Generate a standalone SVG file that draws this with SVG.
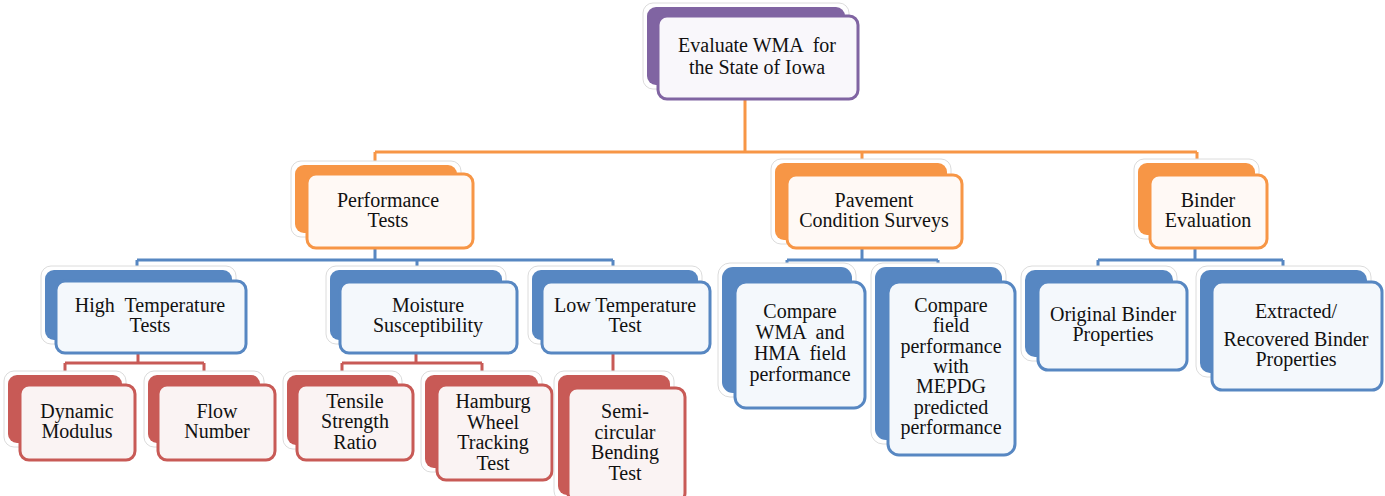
<svg xmlns="http://www.w3.org/2000/svg" width="1385" height="496" viewBox="0 0 1385 496">
<style>
.glow{fill:#ffffff;stroke:#dcdcdc;stroke-width:1}
.bk-p{fill:#8064A2}.fr-p{fill:#F9F7FB;stroke:#8064A2;stroke-width:3}
.bk-o{fill:#F79646}.fr-o{fill:#FFF9F5;stroke:#F79646;stroke-width:3}
.bk-b{fill:#5787C2}.fr-b{fill:#F4F8FC;stroke:#5787C2;stroke-width:3}
.bk-r{fill:#C85A56}.fr-r{fill:#FAF3F3;stroke:#C85A56;stroke-width:3}
.c-o{fill:none;stroke:#F79646;stroke-width:3}
.c-b{fill:none;stroke:#5787C2;stroke-width:3}
.c-r{fill:none;stroke:#C85A56;stroke-width:3}
.t{font-family:'Liberation Serif','Times New Roman',serif;font-size:20px;fill:#111;text-anchor:middle}
</style>
<rect width="1385" height="496" fill="#ffffff"/>
<g id="connectors">
<path class="c-o" d="M745,99 V152 M375,152 H1197 M375,152 V166 M862,152 V164 M1197,152 V164"/>
<path class="c-b" d="M375,248 V260 M137,260 H613 M137,260 V271 M417,260 V271 M613,260 V271"/>
<path class="c-b" d="M862,248 V260 M787,260 H938 M787,260 V268 M938,260 V268"/>
<path class="c-b" d="M1195,248 V260 M1098,260 H1283 M1098,260 V271 M1283,260 V271"/>
<path class="c-r" d="M138,353 V363 M65,363 H204 M65,363 V376 M204,363 V376"/>
<path class="c-r" d="M416,353 V363 M342,363 H482 M342,363 V376 M482,363 V376"/>
<path class="c-r" d="M613,353 V377"/>
</g>
<g id="n-root">
<rect class="glow" x="643" y="3" width="206" height="86" rx="10"/>
<rect class="bk-p" x="647" y="7" width="198" height="78" rx="9"/>
<rect class="fr-p" x="658" y="16" width="200" height="83" rx="9"/>
<text class="t" x="757" y="52" xml:space="preserve">Evaluate WMA  for</text>
<text class="t" x="757" y="74">the State of Iowa</text>
</g>
<g id="n-perf">
<rect class="glow" x="291" y="161" width="170" height="76" rx="10"/>
<rect class="bk-o" x="295" y="165" width="162" height="68" rx="9"/>
<rect class="fr-o" x="307" y="174" width="166" height="74" rx="9"/>
<text class="t" x="388" y="207">Performance</text>
<text class="t" x="388" y="227">Tests</text>
</g>
<g id="n-pave">
<rect class="glow" x="771" y="159" width="180" height="85" rx="10"/>
<rect class="bk-o" x="775" y="163" width="172" height="77" rx="9"/>
<rect class="fr-o" x="787" y="175" width="175" height="73" rx="9"/>
<text class="t" x="874" y="207">Pavement</text>
<text class="t" x="874" y="227">Condition Surveys</text>
</g>
<g id="n-binder">
<rect class="glow" x="1134" y="159" width="125" height="80" rx="10"/>
<rect class="bk-o" x="1138" y="163" width="117" height="72" rx="9"/>
<rect class="fr-o" x="1150" y="175" width="117" height="73" rx="9"/>
<text class="t" x="1208" y="207">Binder</text>
<text class="t" x="1208" y="227">Evaluation</text>
</g>
<g id="n-high">
<rect class="glow" x="41" y="266" width="195" height="78" rx="10"/>
<rect class="bk-b" x="45" y="270" width="187" height="70" rx="9"/>
<rect class="fr-b" x="56" y="281" width="190" height="72" rx="9"/>
<text class="t" x="150" y="312" xml:space="preserve">High  Temperature</text>
<text class="t" x="150" y="332">Tests</text>
</g>
<g id="n-moist">
<rect class="glow" x="326" y="266" width="180" height="78" rx="10"/>
<rect class="bk-b" x="330" y="270" width="172" height="70" rx="9"/>
<rect class="fr-b" x="340" y="282" width="177" height="71" rx="9"/>
<text class="t" x="428" y="312">Moisture</text>
<text class="t" x="428" y="332">Susceptibility</text>
</g>
<g id="n-low">
<rect class="glow" x="528" y="266" width="174" height="78" rx="10"/>
<rect class="bk-b" x="532" y="270" width="166" height="70" rx="9"/>
<rect class="fr-b" x="542" y="282" width="168" height="71" rx="9"/>
<text class="t" x="625" y="312">Low Temperature</text>
<text class="t" x="625" y="332">Test</text>
</g>
<g id="n-cmp1">
<rect class="glow" x="718" y="263" width="138" height="134" rx="12"/>
<rect class="bk-b" x="722" y="267" width="130" height="126" rx="11"/>
<rect class="fr-b" x="735" y="282" width="130" height="126" rx="11"/>
<text class="t" x="800" y="318">Compare</text>
<text class="t" x="800" y="339" xml:space="preserve">WMA  and</text>
<text class="t" x="800" y="360" xml:space="preserve">HMA  field</text>
<text class="t" x="800" y="381">performance</text>
</g>
<g id="n-cmp2">
<rect class="glow" x="871" y="263" width="135" height="181" rx="12"/>
<rect class="bk-b" x="875" y="267" width="127" height="173" rx="11"/>
<rect class="fr-b" x="888" y="282" width="127" height="173" rx="11"/>
<text class="t" x="951" y="312">Compare</text>
<text class="t" x="951" y="332">field</text>
<text class="t" x="951" y="353">performance</text>
<text class="t" x="951" y="373">with</text>
<text class="t" x="951" y="393">MEPDG</text>
<text class="t" x="951" y="414">predicted</text>
<text class="t" x="951" y="434">performance</text>
</g>
<g id="n-orig">
<rect class="glow" x="1021" y="266" width="156" height="95" rx="11"/>
<rect class="bk-b" x="1025" y="270" width="148" height="87" rx="10"/>
<rect class="fr-b" x="1038" y="282" width="149" height="88" rx="10"/>
<text class="t" x="1113" y="321">Original Binder</text>
<text class="t" x="1113" y="341">Properties</text>
</g>
<g id="n-extr">
<rect class="glow" x="1196" y="266" width="175" height="111" rx="11"/>
<rect class="bk-b" x="1200" y="270" width="167" height="103" rx="10"/>
<rect class="fr-b" x="1212" y="282" width="170" height="108" rx="10"/>
<text class="t" x="1296" y="318">Extracted/</text>
<text class="t" x="1296" y="346">Recovered Binder</text>
<text class="t" x="1296" y="366">Properties</text>
</g>
<g id="n-dyn">
<rect class="glow" x="4" y="371" width="122" height="76" rx="10"/>
<rect class="bk-r" x="8" y="375" width="114" height="68" rx="9"/>
<rect class="fr-r" x="20" y="385" width="115" height="75" rx="9"/>
<text class="t" x="77" y="418">Dynamic</text>
<text class="t" x="77" y="438">Modulus</text>
</g>
<g id="n-flow">
<rect class="glow" x="144" y="371" width="120" height="76" rx="10"/>
<rect class="bk-r" x="148" y="375" width="112" height="68" rx="9"/>
<rect class="fr-r" x="158" y="385" width="117" height="75" rx="9"/>
<text class="t" x="217" y="418">Flow</text>
<text class="t" x="217" y="438">Number</text>
</g>
<g id="n-tsr">
<rect class="glow" x="283" y="371" width="119" height="78" rx="10"/>
<rect class="bk-r" x="287" y="375" width="111" height="70" rx="9"/>
<rect class="fr-r" x="297" y="385" width="116" height="75" rx="9"/>
<text class="t" x="355" y="408">Tensile</text>
<text class="t" x="355" y="428">Strength</text>
<text class="t" x="355" y="449">Ratio</text>
</g>
<g id="n-hwt">
<rect class="glow" x="421" y="371" width="121" height="101" rx="10"/>
<rect class="bk-r" x="425" y="375" width="113" height="93" rx="9"/>
<rect class="fr-r" x="437" y="385" width="115" height="95" rx="9"/>
<text class="t" x="493" y="408">Hamburg</text>
<text class="t" x="493" y="429">Wheel</text>
<text class="t" x="493" y="449">Tracking</text>
<text class="t" x="493" y="470">Test</text>
</g>
<g id="n-scb">
<rect class="glow" x="554" y="371" width="120" height="130" rx="10"/>
<rect class="bk-r" x="558" y="375" width="112" height="120" rx="9"/>
<rect class="fr-r" x="568" y="388" width="117" height="114" rx="9"/>
<text class="t" x="625" y="418">Semi-</text>
<text class="t" x="625" y="439">circular</text>
<text class="t" x="625" y="459">Bending</text>
<text class="t" x="625" y="480">Test</text>
</g>
</svg>
